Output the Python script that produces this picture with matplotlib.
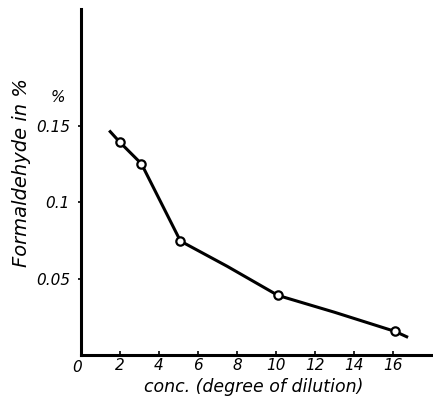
import matplotlib
matplotlib.use("Agg")
import matplotlib.pyplot as plt

# measured points (degree of dilution, formaldehyde %)
diluicao = [2.0, 3.1, 5.1, 10.1, 16.1]
formol = [0.139, 0.125, 0.0745, 0.039, 0.0155]

# hand-drawn curve runs a bit past the first and last points
curva_x = [1.5, 2.0, 3.1, 5.1, 7.5, 10.1, 13.0, 16.1, 16.7]
curva_y = [0.146, 0.139, 0.125, 0.0745, 0.058, 0.039, 0.028, 0.0155, 0.012]

xticks = [0, 2, 4, 6, 8, 10, 12, 14, 16]
xtick_labels = ["0", "2", "4", "6", "8", "10", "12", "14", "16"]
yticks = [0.05, 0.1, 0.15]
ytick_labels = ["0.05", "0.1", "0.15"]

fig = plt.figure(figsize=(4.33, 3.99), dpi=100)
ax = fig.add_axes([0.187, 0.110, 0.813, 0.867])

ax.plot(curva_x, curva_y, color="black", linewidth=2.2, zorder=2)
ax.plot(diluicao, formol, linestyle="none", marker="o", markersize=6,
        markerfacecolor="white", markeredgecolor="black", markeredgewidth=1.6, zorder=3)

ax.set_xlim(0, 18.05)
ax.set_ylim(0, 0.226)

for lado in ["top", "right"]:
    ax.spines[lado].set_visible(False)
ax.spines["left"].set_linewidth(2.2)
ax.spines["bottom"].set_linewidth(2.2)

ax.set_xticks(xticks[1:])
ax.set_xticklabels(xtick_labels[1:], fontsize=11, fontstyle="italic")
ax.set_yticks(yticks)
ax.set_yticklabels(ytick_labels, fontsize=11, fontstyle="italic")
ax.tick_params(axis="x", direction="in", length=3, width=1.2, pad=2)
ax.tick_params(axis="y", direction="out", length=2, width=1.2, pad=6)

ax.text(-0.2, -0.008, "0", fontsize=11, fontstyle="italic", ha="center", va="center")
ax.text(-1.2, 0.168, "%", fontsize=11, fontstyle="italic", ha="center", va="center")

fig.text(0.05, 0.568, "Formaldehyde in %", rotation=90, fontsize=14, fontstyle="italic",
         ha="center", va="center")
fig.text(0.585, 0.03, "conc. (degree of dilution)", fontsize=12.5, fontstyle="italic",
         ha="center", va="center")

fig.savefig("out.png", dpi=100)
